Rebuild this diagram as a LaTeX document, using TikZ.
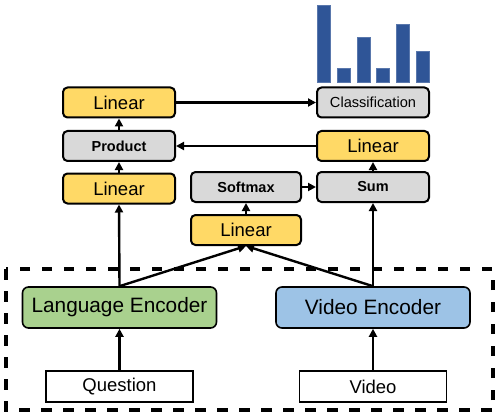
\documentclass[tikz,border=0pt]{standalone}
\usepackage{fontspec}
\setmainfont{Liberation Sans}
\usetikzlibrary{arrows.meta}
\definecolor{cyellow}{HTML}{FFD966}
\definecolor{cgray}{HTML}{D9D9D9}
\definecolor{cgreen}{HTML}{A9D18E}
\definecolor{cblue}{HTML}{9DC3E6}
\definecolor{cbar}{HTML}{2F5597}
\begin{document}
\begin{tikzpicture}[x=1pt,y=-1pt,
  box/.style={draw=black,line width=2pt,rounded corners=4.5pt,inner sep=0pt,
    minimum width=112pt,minimum height=30pt,text=black},
  ybox/.style={box,fill=cyellow,font=\fontsize{18.5}{20}\selectfont},
  gbox/.style={box,fill=cgray,font=\bfseries\fontsize{14.5}{16}\selectfont},
  encbox/.style={draw=black,line width=1.6pt,rounded corners=6pt,inner sep=0pt,
    minimum width=194pt,minimum height=41pt,font=\fontsize{20.8}{22}\selectfont},
  inbox/.style={draw=black,line width=1.5pt,fill=white,inner sep=0pt,
    minimum width=147pt,minimum height=31pt,font=\fontsize{18.5}{20}\selectfont},
  arr/.style={line width=2.4pt,-{Triangle[length=8pt,width=8pt]}},
  bar/.style={fill=cbar,draw=cbar!80!white,line width=0.5pt}]
\useasboundingbox (0,0) rectangle (498,417);
% bars
\foreach \x/\t in {317/5,337/68,357/37,376/68,396/24,416/51}
  \path[bar] (\x,\t) rectangle (\x+13,82);
% dashed frame
\draw[line width=3.2pt,dash pattern=on 10.5pt off 11.5pt] (6,269) rectangle (493,410);
% nodes
\node[ybox] (lin1) at (119,102.5) {Linear};
\node[gbox] (prod) at (119,146) {Product};
\node[ybox] (lin2) at (119,188.5) {Linear};
\node[gbox,minimum width=110pt] (soft) at (246,187) {Softmax};
\node[ybox,minimum width=110pt] (lin3) at (246,230) {Linear};
\node[gbox,font=\fontsize{14.6}{16}\selectfont] (cls) at (373,102.5) {Classification};
\node[ybox] (lin4) at (373,146) {Linear};
\node[gbox] (sum) at (373,187) {Sum};
\node[encbox,fill=cgreen] (lenc) at (119.5,307.5) {Language Encoder};
\node[encbox,fill=cblue] (venc) at (373,307.5) {Video Encoder};
\node[inbox] (q) at (119.5,386.5) {Question};
\node[inbox] (v) at (373,386.5) {Video};
% arrows
\draw[arr] (q.north) -- (lenc.south);
\draw[arr] (v.north) -- (venc.south);
\draw[arr] (lenc.north) -- (lin2.south);
\draw[arr] (lenc.north) -- (lin3.south);
\draw[arr] (venc.north) -- (lin3.south);
\draw[arr] (venc.north) -- (sum.south);
\draw[arr] (lin3.north) -- (soft.south);
\draw[arr] (soft.east) -- (sum.west);
\draw[arr] (sum.north) -- (lin4.south);
\draw[arr] (lin4.west) -- (prod.east);
\draw[arr] (lin2.north) -- (prod.south);
\draw[arr] (prod.north) -- (lin1.south);
\draw[arr] (lin1.east) -- (cls.west);
\end{tikzpicture}
\end{document}
